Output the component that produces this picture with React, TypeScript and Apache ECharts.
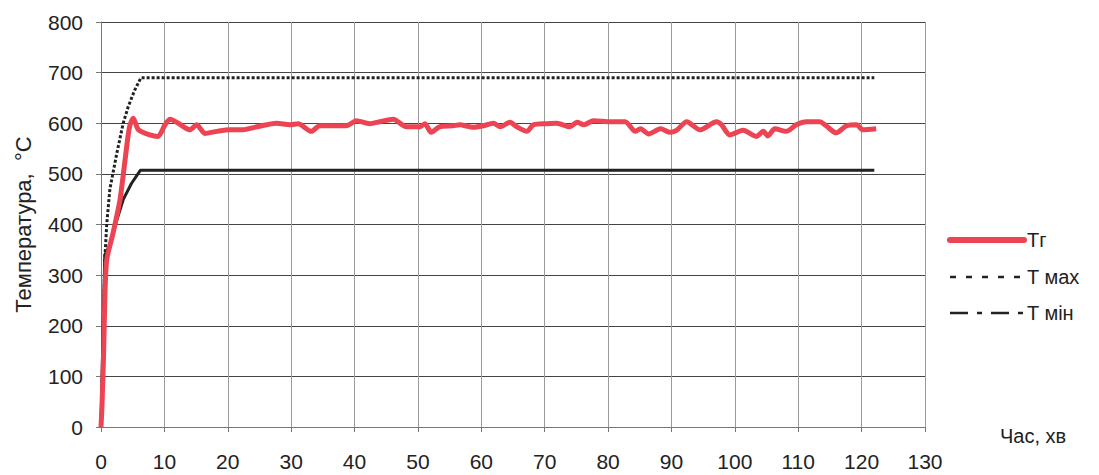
import React, { useEffect, useRef } from "react";
import * as echarts from "echarts";

const xTicks = [0, 10, 20, 30, 40, 50, 60, 70, 80, 90, 100, 110, 120, 130];
const yTicks = [0, 100, 200, 300, 400, 500, 600, 700, 800];

const tgTime = [0, 0.15, 0.4, 0.6, 0.9, 1.9, 3, 3.8, 4.5, 5.1, 5.9, 7.7, 9, 10.1, 10.9, 12.2, 14, 15.1, 16.4, 18.3, 20.3, 22.4, 24.6, 27.7, 29.8, 31.1, 33.2, 34.5, 38.7, 40.3, 42.4, 44, 46.1, 48.2, 50.3, 51.1, 52.1, 53.4, 55.5, 56.6, 58.7, 60.3, 61.9, 63, 64.5, 65.6, 67.2, 68.2, 70.3, 71.9, 74, 75.1, 76.2, 77.7, 80.4, 82.7, 84.3, 85.1, 86.4, 88.3, 89.7, 90.8, 92.4, 94.5, 97.1, 97.9, 99.2, 101.3, 103.4, 104.5, 105.2, 106.3, 108.1, 109.7, 111.3, 113.4, 114.4, 116, 117.6, 119.2, 120.2, 122.3];
const tgValues = [0, 40, 140, 250, 330, 383, 449, 528, 593, 610, 587, 577, 574, 597, 608, 600, 587, 597, 580, 584, 587, 587, 593, 600, 597, 599, 584, 595, 595, 605, 599, 603, 608, 593, 593, 599, 582, 593, 595, 597, 592, 595, 600, 593, 602, 593, 584, 597, 599, 600, 593, 602, 597, 605, 603, 603, 584, 589, 579, 589, 582, 586, 603, 587, 603, 597, 577, 586, 574, 584, 575, 589, 584, 597, 603, 603, 595, 581, 595, 597, 587, 589];

const tMaxTime = [0, 0.3, 0.6, 0.9, 1.4, 2.5, 3.5, 4.3, 5.3, 6.3, 122];
const tMaxValues = [0, 150, 330, 400, 470, 541, 600, 633, 665, 690, 690];

const tMinTime = [0, 0.3, 0.6, 1.4, 2.5, 3.5, 4.8, 6.2, 122];
const tMinValues = [0, 180, 340, 360, 409, 449, 481, 507, 507];

const seriesNames = ["Tг", "T мах", "T мін"];

const zip = (xs: number[], ys: number[]) => xs.map((x, i) => [x, ys[i]]);

export default function App() {
  const ref = useRef<HTMLDivElement>(null);
  useEffect(() => {
    if (!ref.current) return;
    const chart = echarts.init(ref.current, undefined, { renderer: "svg" });
    const font = "Liberation Sans, Arial, sans-serif";
    const legendStyles = [
      { stroke: "#ec4452", lineWidth: 6, lineDash: null as any, lineCap: "round" },
      { stroke: "#222", lineWidth: 2.5, lineDash: [6, 10], lineCap: "butt" },
      { stroke: "#222", lineWidth: 2.5, lineDash: [18, 9, 5, 9], lineCap: "butt" },
    ];
    const legendY = [240, 277, 313];
    const legendGraphics: any[] = [];
    seriesNames.forEach((name, i) => {
      legendGraphics.push({
        type: "line",
        shape: { x1: 950, y1: legendY[i], x2: 1024, y2: legendY[i] },
        style: legendStyles[i],
      });
      legendGraphics.push({
        type: "text",
        x: 1027,
        y: legendY[i],
        style: { text: name, fill: "#222", fontSize: 20, fontFamily: font, textVerticalAlign: "middle", verticalAlign: "middle" },
      });
    });
    chart.setOption({
      animation: false,
      backgroundColor: "#ffffff",
      textStyle: { fontFamily: font },
      grid: { left: 101, right: 174, top: 22, bottom: 48, containLabel: false },
      xAxis: {
        type: "value",
        min: xTicks[0],
        max: xTicks[xTicks.length - 1],
        interval: 10,
        axisLine: { show: true, lineStyle: { color: "#777", width: 1 } },
        axisTick: { show: true, inside: false, length: 5, lineStyle: { color: "#777" } },
        axisLabel: { color: "#222", fontSize: 21, margin: 24, fontFamily: font },
        splitLine: { show: true, lineStyle: { color: "#9a9a9a", width: 1 } },
      },
      yAxis: {
        type: "value",
        min: yTicks[0],
        max: yTicks[yTicks.length - 1],
        interval: 100,
        name: "Температура,  °C",
        nameLocation: "middle",
        nameGap: 67,
        nameTextStyle: { color: "#222", fontSize: 22, fontFamily: font },
        axisLine: { show: true, lineStyle: { color: "#777", width: 1 } },
        axisTick: { show: true, inside: false, length: 5, lineStyle: { color: "#777" } },
        axisLabel: { color: "#222", fontSize: 21, margin: 18, fontFamily: font },
        splitLine: { show: true, lineStyle: { color: "#444", width: 1 } },
      },
      legend: { show: false },
      series: [
        {
          name: seriesNames[1],
          type: "line",
          data: zip(tMaxTime, tMaxValues),
          showSymbol: false,
          symbol: "none",
          lineStyle: { color: "#222", width: 3, type: [3, 2] },
          itemStyle: { color: "#222" },
          z: 2,
        },
        {
          name: seriesNames[2],
          type: "line",
          data: zip(tMinTime, tMinValues),
          showSymbol: false,
          symbol: "none",
          lineStyle: { color: "#222", width: 3, type: "solid" },
          itemStyle: { color: "#222" },
          z: 2,
        },
        {
          name: seriesNames[0],
          type: "line",
          data: zip(tgTime, tgValues),
          showSymbol: false,
          symbol: "none",
          smooth: 0.25,
          lineStyle: { color: "#ec4452", width: 5 },
          itemStyle: { color: "#ec4452" },
          z: 3,
        },
      ],
      graphic: [
        ...legendGraphics,
        {
          type: "text",
          left: 1000,
          top: 426,
          style: { text: "Час, хв", fill: "#222", fontSize: 20, fontFamily: font },
        },
      ],
    });
    return () => chart.dispose();
  }, []);
  return <div ref={ref} style={{ width: 1099, height: 475, position: "absolute", left: 0, top: 0 }} />;
}
